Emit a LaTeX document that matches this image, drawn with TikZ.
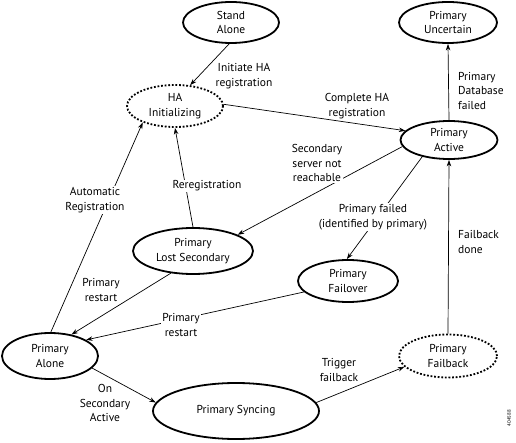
\documentclass[tikz,border=0pt]{standalone}
\usepackage{fontspec}
\setmainfont{PT Sans}
\usetikzlibrary{shapes.geometric,arrows.meta}
\begin{document}
\begin{tikzpicture}[x=1pt,y=-1pt,
  state/.style={ellipse,draw,line width=1.8pt,inner sep=0pt,align=center,font=\fontsize{11.5}{14.5}\selectfont},
  dstate/.style={state,dash pattern=on 1.8pt off 1.8pt},
  conn/.style={line width=0.7pt,-{Stealth[length=6.5pt,width=4.5pt]}},
  lbl/.style={align=center,font=\fontsize{11.5}{14.5}\selectfont,inner sep=1pt},
  lblw/.style={lbl,fill=white},
  ]
\fill[white] (0,0) rectangle (516,443);
\useasboundingbox (0,0) rectangle (516,443);
% states
\node[state,minimum width=96pt,minimum height=41pt] (sa) at (231,22.5) {Stand\\Alone};
\node[state,minimum width=98pt,minimum height=41pt] (unc) at (448,22.5) {Primary\\Uncertain};
\node[dstate,minimum width=96pt,minimum height=42pt] (ha) at (175,106) {HA\\Initializing};
\node[state,minimum width=97pt,minimum height=38pt] (act) at (449,140) {Primary\\Active};
\node[state,minimum width=120pt,minimum height=46pt] (ls) at (193,251) {Primary\\Lost Secondary};
\node[state,minimum width=100pt,minimum height=42pt] (fo) at (348,281) {Primary\\Failover};
\node[state,minimum width=96pt,minimum height=46pt] (al) at (50,356) {Primary\\Alone};
\node[state,minimum width=166pt,minimum height=56pt] (sy) at (236,411) {Primary Syncing};
\node[dstate,minimum width=98pt,minimum height=43pt] (fb) at (448,356) {Primary\\Failback};
% connectors
\draw[conn] (sa.-95) -- (ha.54);
\draw[conn] (ha.2) -- (act.168);
\draw[conn] (act.north) -- (unc.south);
\draw[conn] (act.188) -- (ls.20);
\draw[conn] (act.212) -- (fo.93);
\draw[conn] (fb.north) -- (act.south);
\draw[conn] (ls.90) -- (ha.-90);
\draw[conn] (al.88) -- (ha.207);
\draw[conn] (ls.225) -- (al.45);
\draw[conn] (fo.194) -- (al.24);
\draw[conn] (al.-16) -- (sy.174);
\draw[conn] (sy.6) -- (fb.194);
% labels
\node[lbl] (l1) at (244,76) {Initiate HA\\registration};
\node[lbl] (l2) at (357,106) {Complete HA\\registration};
\node[lbl,align=left,anchor=west] (l3) at (457,91) {Primary\\Database\\failed};
\node[lblw] (l4) at (317,163) {Secondary\\server not\\reachable};
\node[lblw] (l5) at (373,217) {Primary failed\\(identified by primary)};
\node[lbl,align=left,anchor=west] (l6) at (457,242) {Failback\\done};
\node[lblw] (l7) at (207,186) {Reregistration};
\node[lblw] (l8) at (95,200) {Automatic\\Registration};
\node[lbl] (l9) at (101,290) {Primary\\restart};
\node[lblw] (l10) at (181,325) {Primary\\restart};
\node[lbl] (l11) at (105,403) {On\\Secondary\\Active};
\node[lbl] (l12) at (339,370) {Trigger\\failback};
\node[rotate=90,font=\fontsize{5}{6}\selectfont,inner sep=0pt] (id) at (509,418) {404588};
\end{tikzpicture}
\end{document}
